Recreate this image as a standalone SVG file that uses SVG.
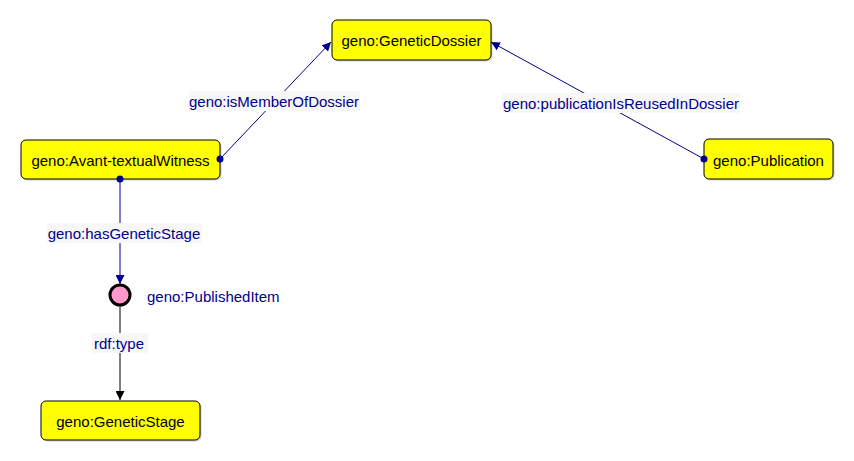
<svg xmlns="http://www.w3.org/2000/svg" width="854" height="461" viewBox="0 0 854 461">
<style>
.node rect{fill:#ffff00;stroke:#000;stroke-width:1}
.node rect.shadow{fill:#999;stroke:none;opacity:0.45}
.nt{font-family:"Liberation Sans",Arial,sans-serif;font-size:15px;fill:#000;text-anchor:middle;dominant-baseline:central}
.el{font-family:"Liberation Sans",Arial,sans-serif;font-size:15px;fill:#00008b;text-anchor:middle;dominant-baseline:central}
.lb{fill:#f7f7f7}
.e{stroke:#00008b;stroke-width:1;fill:none}
.k{stroke:#000;stroke-width:1;fill:none}
</style>
<defs>
<marker id="ab" viewBox="0 0 10 10" refX="10" refY="5" markerWidth="9" markerHeight="9" markerUnits="userSpaceOnUse" orient="auto"><path d="M0,0 L10,5 L0,10 z" fill="#00008b"/></marker>
<marker id="ak" viewBox="0 0 10 10" refX="10" refY="5" markerWidth="9" markerHeight="9" markerUnits="userSpaceOnUse" orient="auto"><path d="M0,0 L10,5 L0,10 z" fill="#000"/></marker>
</defs>
<g id="n-dossier" class="node">
<rect class="shadow" x="333.5" y="21.5" width="159" height="40" rx="5"/>
<rect x="332" y="20" width="159" height="40" rx="5"/>
<text class="nt" x="411.5" y="40">geno:GeneticDossier</text>
</g>
<g id="n-witness" class="node">
<rect class="shadow" x="22.5" y="141.5" width="199" height="39" rx="5"/>
<rect x="21" y="140" width="199" height="39" rx="5"/>
<text class="nt" x="120.5" y="160">geno:Avant-textualWitness</text>
</g>
<g id="n-publication" class="node">
<rect class="shadow" x="705.5" y="140.5" width="129" height="40" rx="5"/>
<rect x="704" y="139" width="129" height="40" rx="5"/>
<text class="nt" x="768.5" y="160">geno:Publication</text>
</g>
<g id="n-publisheditem">
<circle cx="120" cy="295" r="10" fill="#ff99cc" stroke="#000" stroke-width="3"/>
<text class="el" x="147" y="296" style="text-anchor:start">geno:PublishedItem</text>
</g>
<g id="n-stage" class="node">
<rect class="shadow" x="42.5" y="402.5" width="159" height="39" rx="5"/>
<rect x="41" y="401" width="159" height="39" rx="5"/>
<text class="nt" x="120.5" y="421">geno:GeneticStage</text>
</g>
<g id="connectors">
<g id="e1">
<line class="e" x1="220" y1="159" x2="331" y2="42" marker-end="url(#ab)"/>
<circle cx="220" cy="159" r="3.5" fill="#00008b"/>
<rect class="lb" x="189" y="91" width="171" height="20"/>
<text class="el" x="274" y="101">geno:isMemberOfDossier</text>
</g>
<g id="e2">
<line class="e" x1="704" y1="159" x2="491" y2="42" marker-end="url(#ab)"/>
<circle cx="704" cy="159" r="3.5" fill="#00008b"/>
<rect class="lb" x="502" y="93" width="238" height="20"/>
<text class="el" x="621" y="103">geno:publicationIsReusedInDossier</text>
</g>
<g id="e3">
<line class="e" x1="120" y1="179" x2="120" y2="284" marker-end="url(#ab)"/>
<circle cx="120" cy="179" r="3.5" fill="#00008b"/>
<rect class="lb" x="47" y="223" width="155" height="20"/>
<text class="el" x="124" y="233">geno:hasGeneticStage</text>
</g>
<g id="e4">
<line class="k" x1="120" y1="306" x2="120" y2="400" marker-end="url(#ak)"/>
<rect class="lb" x="92" y="333" width="56" height="20"/>
<text class="el" x="119" y="343">rdf:type</text>
</g>
</g>
</svg>
